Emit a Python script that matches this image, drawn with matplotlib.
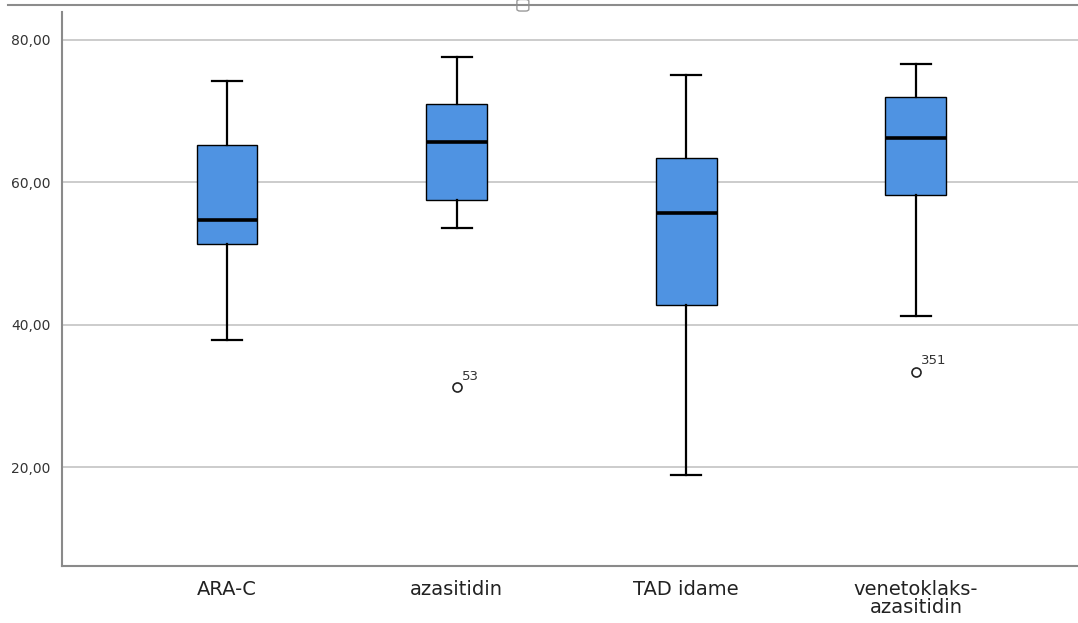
import matplotlib
matplotlib.use("Agg")
import matplotlib.pyplot as plt
from matplotlib.patches import FancyBboxPatch
from matplotlib.lines import Line2D

groups = ["ARA-C", "azasitidin", "TAD idame", "venetoklaks-\nazasitidin"]
whisk_lo = [37.9, 53.6, 18.9, 41.2]
q1 = [51.3, 57.5, 42.8, 58.2]
med = [54.7, 65.7, 55.7, 66.2]
q3 = [65.3, 71.0, 63.4, 72.0]
whisk_hi = [74.2, 77.6, 75.1, 76.6]
outliers = [[], [31.2], [], [33.4]]
outlier_ids = [[], ["53"], [], ["351"]]
yticks = [20, 40, 60, 80]

stats = []
for i, g in enumerate(groups):
    stats.append({"label": g, "whislo": whisk_lo[i], "q1": q1[i], "med": med[i],
                  "q3": q3[i], "whishi": whisk_hi[i], "fliers": outliers[i]})

fig = plt.figure(figsize=(10.78, 6.23), dpi=100)
ax = fig.add_axes([0.0575, 0.0915, 0.9425, 0.889])

pos = [1, 2, 3, 4]
ax.bxp(stats, positions=pos, widths=0.265, patch_artist=True, capwidths=0.13,
       boxprops=dict(facecolor="#4f93e2", edgecolor="black", linewidth=1.0),
       medianprops=dict(color="black", linewidth=2.6),
       whiskerprops=dict(color="black", linewidth=1.6),
       capprops=dict(color="black", linewidth=1.6),
       flierprops=dict(marker="o", markerfacecolor="white", markeredgecolor="#222222",
                       markersize=6.5, markeredgewidth=1.2))

for i, ids in enumerate(outlier_ids):
    for v, lab in zip(outliers[i], ids):
        ax.annotate(lab, (pos[i], v), xytext=(4, 3), textcoords="offset points",
                    fontsize=9.5, color="#333333", ha="left", va="bottom")

ax.set_xlim(0.281, 4.706)
ax.set_ylim(6.1, 83.9)
ax.set_yticks(yticks)
ax.set_yticklabels([f"{t:.2f}".replace(".", ",") for t in yticks], fontsize=10, color="#333333")
ax.set_xticks(pos)
ax.set_xticklabels(groups, fontsize=14, color="#222222", linespacing=0.95)
ax.tick_params(length=0, pad=8)
ax.tick_params(axis="x", pad=10)
ax.yaxis.grid(True, color="#c4c4c4", linewidth=1.2)
ax.set_axisbelow(True)
for s in ["top", "right"]:
    ax.spines[s].set_visible(False)
for s in ["left", "bottom"]:
    ax.spines[s].set_color("#8a8a8a")
    ax.spines[s].set_linewidth(1.5)

# window frame line across the top with its resize handle
fig.add_artist(Line2D([0.0075, 1.0], [0.992, 0.992], color="#8c8c8c", linewidth=1.5))
fig.add_artist(FancyBboxPatch((0.4795, 0.9823), 0.0111, 0.0185,
                              boxstyle="round,pad=0,rounding_size=0.003",
                              facecolor="white", edgecolor="#9a9a9a", linewidth=1.0))

fig.savefig("out.png", dpi=100)
